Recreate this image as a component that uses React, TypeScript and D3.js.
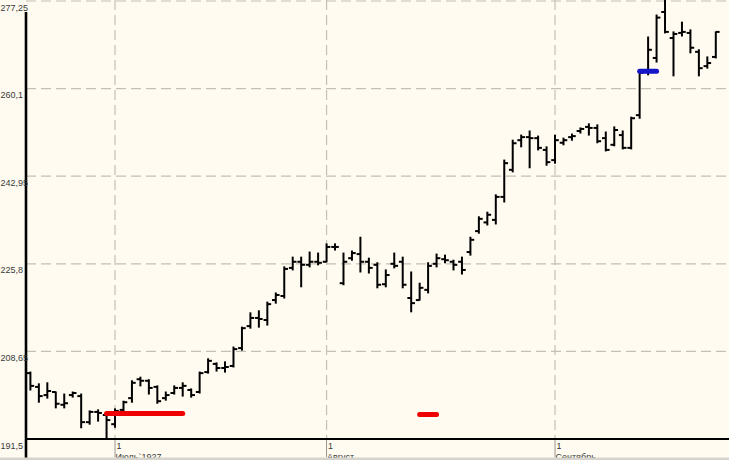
import React from "react";
import * as d3 from "d3";

const W = 729;
const H = 460;

// OHLC data (trading days, 20 June 1927 .. 23 Sept 1927)
const opens = [
  204.4, 201.7, 200.1, 200.7, 198.2, 200.1, 199.9, 194.8, 196.8, 196.2,
  194.4, 197.2, 199.5, 203.2, 202.9, 201.7, 199.5, 200.5, 201.5, 201.1,
  200.7, 204.6, 206.2, 205.4, 205.8, 209.3, 213.6, 215.2, 214.8, 218.7,
  219.5, 225.0, 226.2, 225.6, 226.2, 226.2, 229.1, 222.0, 226.9, 227.7,
  226.2, 225.6, 221.8, 225.8, 226.2, 219.1, 218.7, 220.7, 225.8, 226.7,
  226.2, 226.2, 228.1, 232.2, 233.9, 234.4, 238.9, 244.2, 250.0, 250.6,
  250.4, 248.1, 246.1, 249.5, 250.6, 251.8, 252.6, 252.4, 250.4, 249.1,
  251.0, 248.5, 254.9, 263.7, 266.1, 275.1, 270.0, 271.0, 271.0, 267.3,
  264.5, 266.3,
];
const highs = [
  204.6, 202.3, 202.5, 200.7, 200.3, 200.7, 200.3, 197.0, 197.2, 196.6,
  197.4, 198.9, 202.9, 203.6, 203.1, 201.9, 200.7, 201.9, 202.5, 201.3,
  204.6, 207.2, 206.4, 206.6, 209.5, 213.4, 216.2, 216.6, 218.3, 220.1,
  225.2, 227.1, 227.1, 228.1, 227.9, 229.7, 229.7, 227.9, 228.3, 231.0,
  226.9, 226.0, 224.6, 227.9, 227.1, 224.2, 222.0, 226.0, 227.7, 227.5,
  226.5, 227.1, 231.0, 235.0, 235.9, 239.3, 246.1, 250.0, 251.0, 251.8,
  250.8, 248.7, 251.0, 250.4, 251.2, 252.4, 253.2, 253.0, 251.6, 252.6,
  251.8, 254.5, 263.3, 270.2, 274.5, 277.4, 271.2, 273.1, 271.6, 267.7,
  266.3, 271.2,
];
const lows = [
  201.1, 198.7, 199.5, 197.6, 197.6, 199.7, 193.7, 194.4, 195.0, 191.5,
  193.8, 196.8, 198.7, 201.9, 200.3, 198.5, 199.1, 200.3, 199.9, 199.7,
  200.5, 204.4, 204.8, 204.6, 205.6, 208.9, 213.2, 213.4, 213.8, 218.1,
  219.1, 224.6, 221.3, 225.2, 225.6, 226.2, 228.5, 221.7, 226.5, 224.2,
  224.0, 221.1, 221.3, 225.0, 221.1, 216.4, 218.7, 220.1, 225.2, 226.0,
  224.6, 223.8, 227.5, 231.8, 233.4, 233.6, 237.9, 243.8, 248.7, 244.6,
  248.1, 245.1, 245.5, 249.1, 250.0, 251.4, 251.0, 249.5, 247.9, 248.9,
  248.3, 248.3, 254.3, 262.8, 265.3, 271.0, 262.6, 270.4, 267.1, 262.6,
  264.1, 266.1,
];
const closes = [
  201.9, 199.9, 200.9, 198.4, 198.5, 200.5, 194.8, 196.8, 196.6, 195.2,
  197.0, 198.7, 202.5, 202.9, 201.5, 198.9, 200.1, 201.5, 201.9, 200.1,
  204.4, 206.8, 205.4, 205.6, 209.1, 213.2, 215.2, 215.0, 217.9, 219.7,
  224.8, 226.2, 225.6, 226.2, 226.0, 229.1, 229.1, 226.2, 227.9, 226.2,
  225.0, 221.7, 223.6, 225.4, 221.7, 218.1, 221.1, 225.4, 226.9, 226.5,
  225.6, 224.6, 230.5, 234.6, 235.4, 238.9, 245.5, 249.4, 250.6, 250.4,
  248.5, 245.7, 250.0, 250.0, 250.8, 252.2, 252.4, 249.8, 248.1, 252.0,
  248.5, 254.3, 263.2, 267.7, 274.0, 271.2, 270.8, 271.2, 268.1, 264.1,
  265.1, 271.2,
];

// Axis ticks
const yTicks = [191.5, 208.65, 225.8, 242.95, 260.1, 277.25];
const yTickLabels = ["191,5", "208,65", "225,8", "242,95", "260,1", "277,25"];
const monthIndex = [10, 35, 62];
const dayLabels = ["1", "1", "1"];
const monthLabels = ["Июль`1927", "Август", "Сентябрь"];

// Signal markers
const markerFrom = [9, 46, 72];
const markerTo = [18, 48, 74];
const markerValue = [196.5, 196.3, 263.5];
const markerKind = ["sell", "sell", "buy"];

export default function App() {
  const n = closes.length;
  const x = d3.scaleLinear().domain([0, n - 1]).range([30.4, 715.8]);
  const y = d3.scaleLinear().domain([191.5, 277.25]).range([439, 1]);

  const axisX = 26;
  const axisY = y(191.5);
  const tick = 3.8;
  const font = "'Liberation Sans', Arial, sans-serif";
  const kindColor: Record<string, string> = { sell: "#ee0000", buy: "#1414c8" };

  return (
    <svg
      width={W}
      height={H}
      style={{ position: "fixed", left: 0, top: 0, display: "block" }}
      xmlns="http://www.w3.org/2000/svg"
    >
      <rect x={0} y={0} width={W} height={H} fill="#fffbf0" />

      {/* horizontal grid */}
      {yTicks.slice(1).map((t, i) => (
        <line
          key={"hg" + i}
          x1={axisX}
          x2={W}
          y1={y(t)}
          y2={y(t)}
          stroke="#c4c0b6"
          strokeWidth={1.2}
          strokeDasharray="10,5"
        />
      ))}

      {/* vertical grid */}
      {monthIndex.map((m, i) => (
        <g key={"vg" + i}>
          <line
            x1={x(m)}
            x2={x(m)}
            y1={0}
            y2={axisY}
            stroke="#c4c0b6"
            strokeWidth={1.2}
            strokeDasharray="10,5"
          />
          <line x1={x(m)} x2={x(m)} y1={axisY} y2={457} stroke="#9a978f" strokeWidth={1} />
        </g>
      ))}

      {/* OHLC bars */}
      <g stroke="#000" strokeWidth={2} fill="none">
        {closes.map((c, i) => {
          const cx = x(i);
          return (
            <g key={"b" + i}>
              <line x1={cx} x2={cx} y1={y(highs[i]) - 0.5} y2={y(lows[i]) + 0.5} />
              <line x1={cx - tick} x2={cx} y1={y(opens[i])} y2={y(opens[i])} />
              <line x1={cx} x2={cx + tick} y1={y(c)} y2={y(c)} />
            </g>
          );
        })}
      </g>

      {/* markers */}
      {markerFrom.map((f, i) => (
        <line
          key={"m" + i}
          x1={x(f)}
          x2={x(markerTo[i])}
          y1={y(markerValue[i])}
          y2={y(markerValue[i])}
          stroke={kindColor[markerKind[i]]}
          strokeWidth={5}
          strokeLinecap="round"
        />
      ))}

      {/* axes */}
      <line x1={axisX} x2={axisX} y1={12} y2={H} stroke="#000" strokeWidth={2.6} />
      <line x1={axisX} x2={W} y1={axisY} y2={axisY} stroke="#000" strokeWidth={2} />

      {/* y labels */}
      {yTicks.map((t, i) => (
        <text
          key={"yl" + i}
          x={0.5}
          y={y(t) + 9.5}
          fontFamily={font}
          fontSize={9}
          fill="#3a3a3a"
        >
          {yTickLabels[i]}
        </text>
      ))}

      {/* x labels */}
      {monthIndex.map((m, i) => (
        <g key={"xl" + i} fontFamily={font} fontSize={9} fill="#3a3a3a">
          <text x={x(m) + 1.5} y={449}>
            {dayLabels[i]}
          </text>
          <text x={x(m) + 0.5} y={459.5}>
            {monthLabels[i]}
          </text>
        </g>
      ))}

      <rect x={0} y={457.5} width={W} height={2.5} fill="#d6d3cc" />
    </svg>
  );
}
